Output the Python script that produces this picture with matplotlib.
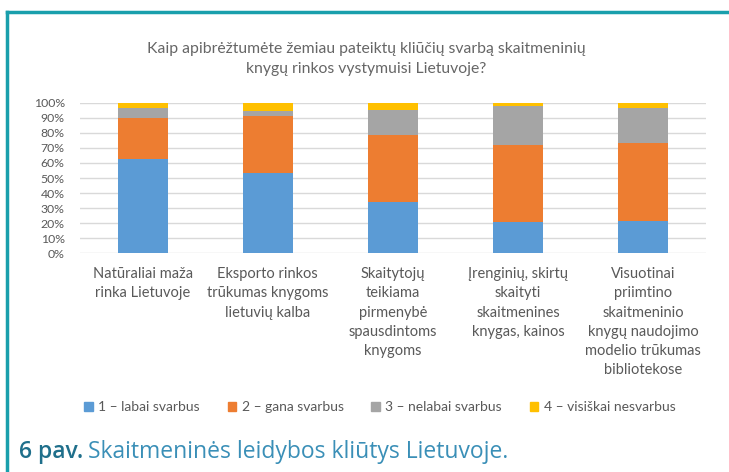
import numpy as np
import matplotlib
matplotlib.use("Agg")
from matplotlib import pyplot as plt
from matplotlib.lines import Line2D
from matplotlib.patches import Patch

plt.rcParams['font.family'] = ['Lato', 'DejaVu Sans']

categories = [
    "Natūraliai maža\nrinka Lietuvoje",
    "Eksporto rinkos\ntrūkumas knygoms\nlietuvių kalba",
    "Skaitytojų\nteikiama\npirmenybė\nspausdintoms\nknygoms",
    "Įrenginių, skirtų\nskaityti\nskaitmenines\nknygas, kainos",
    "Visuotinai\npriimtino\nskaitmeninio\nknygų naudojimo\nmodelio trūkumas\nbibliotekose",
]
series_names = ["1 – labai svarbus", "2 – gana svarbus",
                "3 – nelabai svarbus", "4 – visiškai nesvarbus"]
labai = [62.4, 53.3, 33.9, 20.8, 21.6]
gana = [27.6, 38.1, 44.7, 51.3, 51.6]
nelabai = [6.5, 3.3, 16.6, 25.9, 23.3]
nesvarbus = [3.5, 5.3, 4.8, 2.0, 3.5]
colors = ["#5b9bd5", "#ed7d31", "#a5a5a5", "#ffc000"]

title = "Kaip apibrėžtumėte žemiau pateiktų kliūčių svarbą skaitmeninių\nknygų rinkos vystymuisi Lietuvoje?"

fig = plt.figure(figsize=(7.29, 4.72), dpi=100)
ax = fig.add_axes([0.1097, 0.4633, 0.8587, 0.3191])

x = np.arange(len(categories))
bottom = np.zeros(len(categories))
for vals, col, name in zip([labai, gana, nelabai, nesvarbus], colors, series_names):
    ax.bar(x, vals, 0.4, bottom=bottom, color=col, label=name, zorder=3)
    bottom += np.array(vals)

ax.set_xlim(-0.5, 4.5)
ax.set_ylim(0, 100)
ax.set_yticks(np.arange(0, 101, 10))
ax.set_yticklabels([f"{v}%" for v in range(0, 101, 10)], fontsize=8.8, color="#595959")
ax.yaxis.grid(True, color="#d9d9d9", lw=1, zorder=0)
ax.set_xticks(x)
ax.set_xticklabels(categories, fontsize=10.5, color="#595959", linespacing=1.47, va="top")
ax.tick_params(length=0, pad=10)
ax.tick_params(axis="y", pad=11)
for s in ax.spines.values():
    s.set_visible(False)

fig.text(0.502, 0.875, title, ha="center", va="center", fontsize=11.3,
         color="#666666", linespacing=1.55)

handles = [Patch(color=c) for c in colors]
fig.legend(handles, series_names, loc="center", bbox_to_anchor=(0.521, 0.137), ncol=4,
           frameon=False, fontsize=10, labelcolor="#595959", handlelength=0.6,
           handleheight=0.6, handletextpad=0.4, columnspacing=2.0)

# frame
teal = "#1a9fac"
fig.add_artist(Line2D([0.0096, 1.0], [0.975, 0.975], color=teal, lw=2.5))
fig.add_artist(Line2D([0.0096, 0.0096], [0.975, 0.0], color=teal, lw=2.5))

t1 = fig.text(0.026, 0.03, "6 pav.", fontsize=16.5, color="#1f6f8b",
              family="Open Sans", fontweight="semibold")
fig.canvas.draw()
bb = t1.get_window_extent().transformed(fig.transFigure.inverted())
fig.text(bb.x1 + 0.007, 0.03, "Skaitmeninės leidybos kliūtys Lietuvoje.", fontsize=16.5,
         color="#3a8fb7", family="Open Sans")

fig.savefig("out.png", dpi=100)
